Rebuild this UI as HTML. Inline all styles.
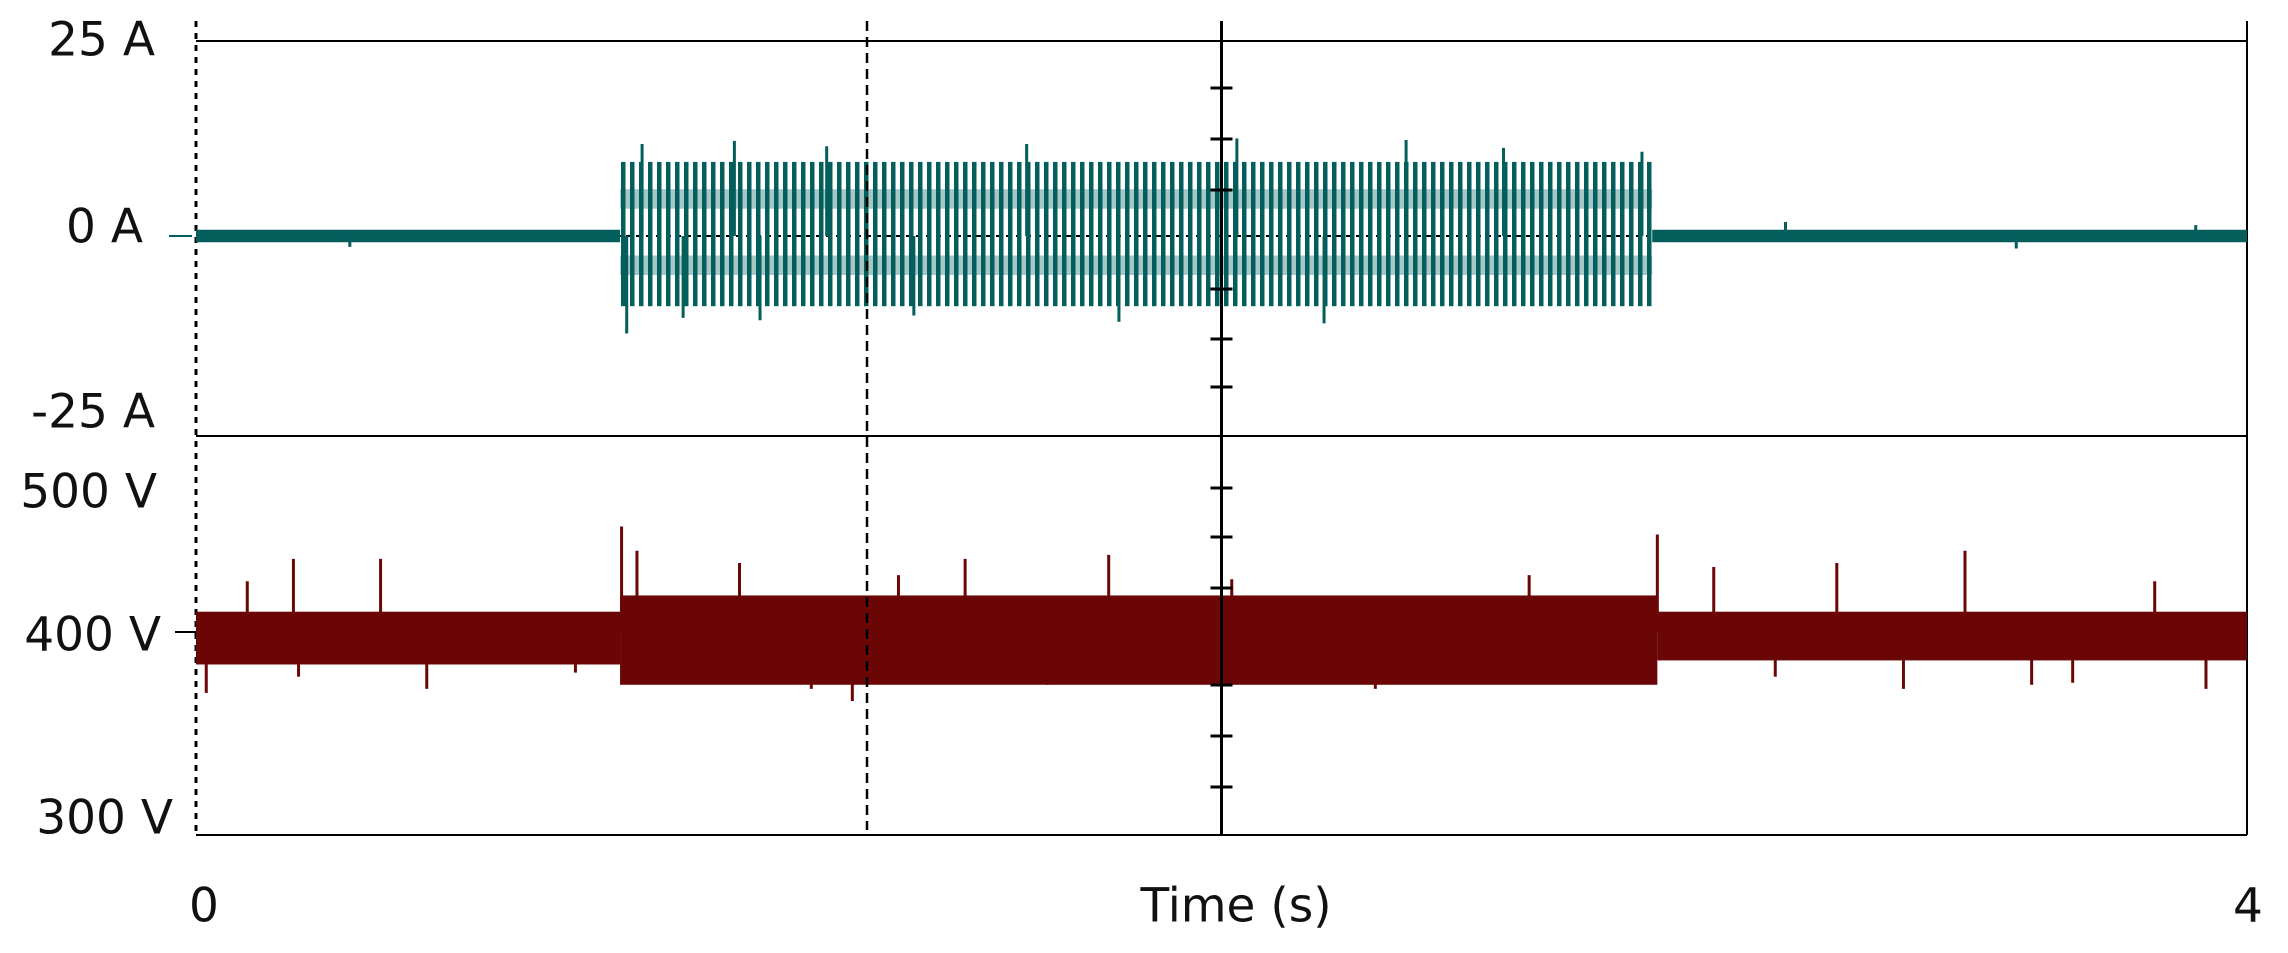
<!DOCTYPE html>
<html><head><meta charset="utf-8"><style>
html,body{margin:0;padding:0;background:#fff;}
svg{display:block;}
text{font-family:"DejaVu Sans","Liberation Sans",sans-serif;fill:#111;}
</style></head><body>
<svg id="chart" width="2288" height="953" viewBox="0 0 2288 953" xmlns="http://www.w3.org/2000/svg">
<defs>
<pattern id="osc" width="9" height="10" patternUnits="userSpaceOnUse"><rect x="0" y="0" width="4.5" height="10" fill="#035e5c"/></pattern>
</defs>
<g id="frame"></g>
<g id="cur"></g>
<g id="volt"></g>
<g id="axes"></g>
<g id="labels"></g>
</svg>
<script>
// ---- data ----
const timeRange = [0, 4];
const currentTicks = [25, 0, -25];
const currentTickLabels = ["25 A", "0 A", "-25 A"];
const voltageTicks = [500, 400, 300];
const voltageTickLabels = ["500 V", "400 V", "300 V"];
const xTickLabels = ["0", "4"];
// current envelope segments: start time, end time, upper A, lower A, oscillating?
const curSegStart = [0, 0.827, 2.84];
const curSegEnd = [0.827, 2.84, 4];
const curSegUpper = [0.8, 9.5, 0.8];
const curSegLower = [-0.8, -9.0, -0.8];
const curSegOsc = [0, 1, 0];
// current spikes (time, value)
const curSpikeT = [0.84, 0.87, 0.95, 1.05, 1.23, 1.4, 1.62, 1.8, 2.03, 2.2, 2.36, 2.55, 2.82, 0.3, 1.1, 3.1, 3.55, 3.9];
const curSpikeV = [-12.5, 11.8, -10.5, 12.2, 11.5, -10.2, 11.8, -11, 12.5, -11.2, 12.3, 11.3, 10.8, -1.4, -10.8, 1.8, -1.6, 1.4];
// voltage envelope segments
const vSegStart = [0, 0.827, 2.85];
const vSegEnd = [0.827, 2.85, 4];
const vSegUpper = [410, 418, 410];
const vSegLower = [384, 374, 386];
// voltage spikes
const vSpikeT = [0.02, 0.1, 0.19, 0.2, 0.36, 0.45, 0.74, 0.83, 0.86, 0.92, 1.06, 1.2, 1.28, 1.37, 1.5, 1.66, 1.78, 1.87, 2.02, 2.3, 2.6, 2.85, 2.96, 3.08, 3.2, 3.33, 3.45, 3.58, 3.66, 3.82, 3.92];
const vSpikeV = [370, 425, 436, 378, 436, 372, 380, 452, 440, 376, 434, 372, 366, 428, 436, 374, 438, 376, 426, 372, 428, 448, 432, 378, 434, 372, 440, 374, 375, 425, 372];

// ---- scales ----
const L = 196, R = 2247, T = 41, MID = 436, B = 835;
const X = t => L + (t - timeRange[0]) / (timeRange[1] - timeRange[0]) * (R - L);
const YC = a => 236 - a * 7.8;
const YV = v => 632 - (v - 400) * 2.03;
const NS = "http://www.w3.org/2000/svg";
function mk(tag, attrs, parent) {
  const e = document.createElementNS(NS, tag);
  for (const k in attrs) e.setAttribute(k, attrs[k]);
  parent.appendChild(e);
  return e;
}
const frame = document.getElementById('frame');
const cur = document.getElementById('cur');
const volt = document.getElementById('volt');
const axes = document.getElementById('axes');
const labels = document.getElementById('labels');

let e;
e = mk('line', {x1: L, y1: T, x2: R, y2: T, stroke: '#000', 'stroke-width': 2}, frame);


e = mk('line', {x1: L, y1: MID, x2: R, y2: MID, stroke: '#000', 'stroke-width': 2}, frame);


e = mk('line', {x1: L, y1: B, x2: R, y2: B, stroke: '#000', 'stroke-width': 2}, frame);


e = mk('line', {x1: R, y1: 21, x2: R, y2: B, stroke: '#000', 'stroke-width': 2}, frame);


e = mk('line', {x1: L, y1: 21, x2: L, y2: B, stroke: '#000', 'stroke-width': 3, 'stroke-dasharray': '6 6'}, frame);


e = mk('line', {x1: L, y1: YC(0), x2: R, y2: YC(0), stroke: '#000', 'stroke-width': 2, 'stroke-dasharray': '5 5'}, frame);



for (let i = 0; i < curSegStart.length; i++) {
  const x1 = X(curSegStart[i]), x2 = X(curSegEnd[i]);
  if (curSegOsc[i]) {
    e = mk('rect', {x: x1, y: YC(curSegUpper[i]), width: x2 - x1, height: YC(curSegLower[i]) - YC(curSegUpper[i]), fill: 'url(#osc)'}, cur);
    
    
    e = mk('rect', {x: x1, y: YC(6), width: x2 - x1, height: YC(3.5) - YC(6), fill: '#035e5c', opacity: 0.35}, cur);
    
    
    e = mk('rect', {x: x1, y: YC(-2.5), width: x2 - x1, height: YC(-5) - YC(-2.5), fill: '#035e5c', opacity: 0.35}, cur);
    
    
  } else {
    e = mk('rect', {x: x1, y: YC(curSegUpper[i]), width: x2 - x1, height: YC(curSegLower[i]) - YC(curSegUpper[i]), fill: '#035e5c'}, cur);
    
    
  }
}
for (let i = 0; i < curSpikeT.length; i++) {
  e = mk('line', {x1: X(curSpikeT[i]), x2: X(curSpikeT[i]), y1: YC(0), y2: YC(curSpikeV[i]), stroke: '#035e5c', 'stroke-width': 3}, cur);
  
  
}

for (let i = 0; i < vSegStart.length; i++) {
  const x1 = X(vSegStart[i]), x2 = X(vSegEnd[i]);
  e = mk('rect', {x: x1, y: YV(vSegUpper[i]), width: x2 - x1, height: YV(vSegLower[i]) - YV(vSegUpper[i]), fill: '#6b0606'}, volt);
  
  
}
for (let i = 0; i < vSpikeT.length; i++) {
  e = mk('line', {x1: X(vSpikeT[i]), x2: X(vSpikeT[i]), y1: YV(400), y2: YV(vSpikeV[i]), stroke: '#6b0606', 'stroke-width': 3}, volt);
  
  
}

const cx = X(2);
e = mk('line', {x1: cx, y1: 21, x2: cx, y2: B, stroke: '#000', 'stroke-width': 3}, axes);


const ctY = [88, 139, 190, 289, 339, 387, 488, 537, 588, 685, 736, 787];
for (const y of ctY) {
  e = mk('line', {x1: cx - 11, x2: cx + 11, y1: y, y2: y, stroke: '#000', 'stroke-width': 3}, axes);
  
  
}
e = mk('line', {x1: 867, y1: 21, x2: 867, y2: 830, stroke: '#000', 'stroke-width': 2.5, 'stroke-dasharray': '10 6'}, axes);


e = mk('line', {x1: 169, x2: 192, y1: YC(0), y2: YC(0), stroke: '#035e5c', 'stroke-width': 2}, axes);


e = mk('line', {x1: 175, x2: 196, y1: YV(400), y2: YV(400), stroke: '#000', 'stroke-width': 2}, axes);



const cLabY = [40, 227, 412];
const cLabX = [155, 143, 155];
for (let i = 0; i < currentTicks.length; i++) {
  e = mk('text', {x: cLabX[i], y: cLabY[i], 'font-size': 47, 'text-anchor': 'end', 'dominant-baseline': 'central'}, labels);
  e.textContent = currentTickLabels[i];
  
  
}
const vLabY = [492, 635, 818];
const vLabX = [157, 161, 173];
for (let i = 0; i < voltageTicks.length; i++) {
  e = mk('text', {x: vLabX[i], y: vLabY[i], 'font-size': 47, 'text-anchor': 'end', 'dominant-baseline': 'central'}, labels);
  e.textContent = voltageTickLabels[i];
  
  
}
e = mk('text', {x: 204, y: 906, 'font-size': 47, 'text-anchor': 'middle', 'dominant-baseline': 'central'}, labels);
e.textContent = xTickLabels[0];


e = mk('text', {x: 2248, y: 906, 'font-size': 47, 'text-anchor': 'middle', 'dominant-baseline': 'central'}, labels);
e.textContent = xTickLabels[1];


e = mk('text', {x: 1236, y: 906, 'font-size': 47, 'text-anchor': 'middle', 'dominant-baseline': 'central'}, labels);
e.textContent = 'Time (s)';


</script>
</body></html>
